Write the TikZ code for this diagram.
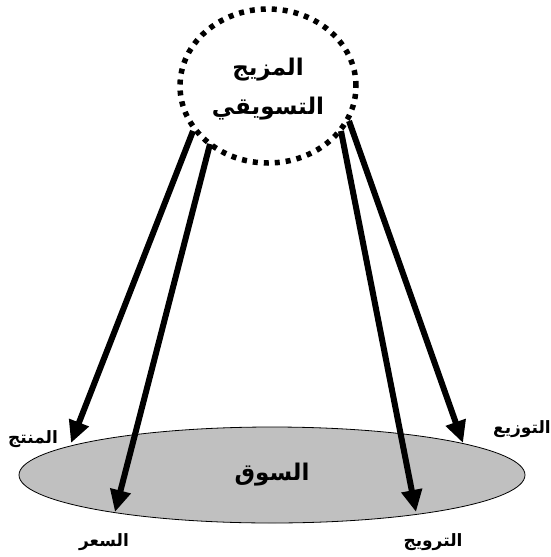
\documentclass[tikz,border=0pt]{standalone}
\usepackage{fontspec}
\TeXXeTstate=1
\newfontfamily\arabicfont[Script=Arabic]{DejaVu Sans}
\usetikzlibrary{shapes.geometric,arrows.meta}
\definecolor{marketgray}{RGB}{192,192,192}
\tikzset{
  mixcircle/.style={draw, ellipse, line width=5.5pt, dash pattern=on 5pt off 6pt,
    minimum width=176pt, minimum height=154pt, inner sep=0pt},
  mixtext/.style={inner sep=0pt, align=center,
    font=\arabicfont\bfseries\fontsize{23}{39}\selectfont},
  marketellipse/.style={draw, ellipse, fill=marketgray, line width=0.8pt,
    minimum width=506pt, minimum height=96pt, inner sep=0pt,
    font=\arabicfont\bfseries\fontsize{23}{26}\selectfont},
  lbl/.style={inner sep=0pt, font=\arabicfont\bfseries\fontsize{17}{20}\selectfont},
  bigarrow/.style={line width=6pt, -{Triangle[length=22pt,width=20pt]}}
}
\begin{document}
\begin{tikzpicture}[x=1pt,y=-1pt]
\useasboundingbox (0,0) rectangle (551,557);
\node[marketellipse] (market) at (272,475) {\beginR السوق\endR};
\node[mixcircle] (mix) at (268,86) {};
\node[mixtext] (mixlabel) at (mix.center) [yshift=-3pt] {\beginR المزيج\endR\\\beginR التسويقي\endR};
% arrow endpoints
\coordinate (s1) at (193,131);
\coordinate (s2) at (210,144);
\coordinate (s3) at (341,131);
\coordinate (s4) at (349,121);
\coordinate (e1) at (71,443);
\coordinate (e2) at (115,512);
\coordinate (e3) at (416,512);
\coordinate (e4) at (463,443);
\draw[bigarrow] (s1) -- (e1);
\draw[bigarrow] (s2) -- (e2);
\draw[bigarrow] (s3) -- (e3);
\draw[bigarrow] (s4) -- (e4);
% labels
\node[lbl] (lproduct) at (33,439) {\beginR المنتج\endR};
\node[lbl] (lprice) at (104,542) {\beginR السعر\endR};
\node[lbl] (lpromo) at (433,542) {\beginR الترويج\endR};
\node[lbl, anchor=east] (ldist) at (551,429) {\beginR التوزيع\endR};
\end{tikzpicture}
\end{document}
